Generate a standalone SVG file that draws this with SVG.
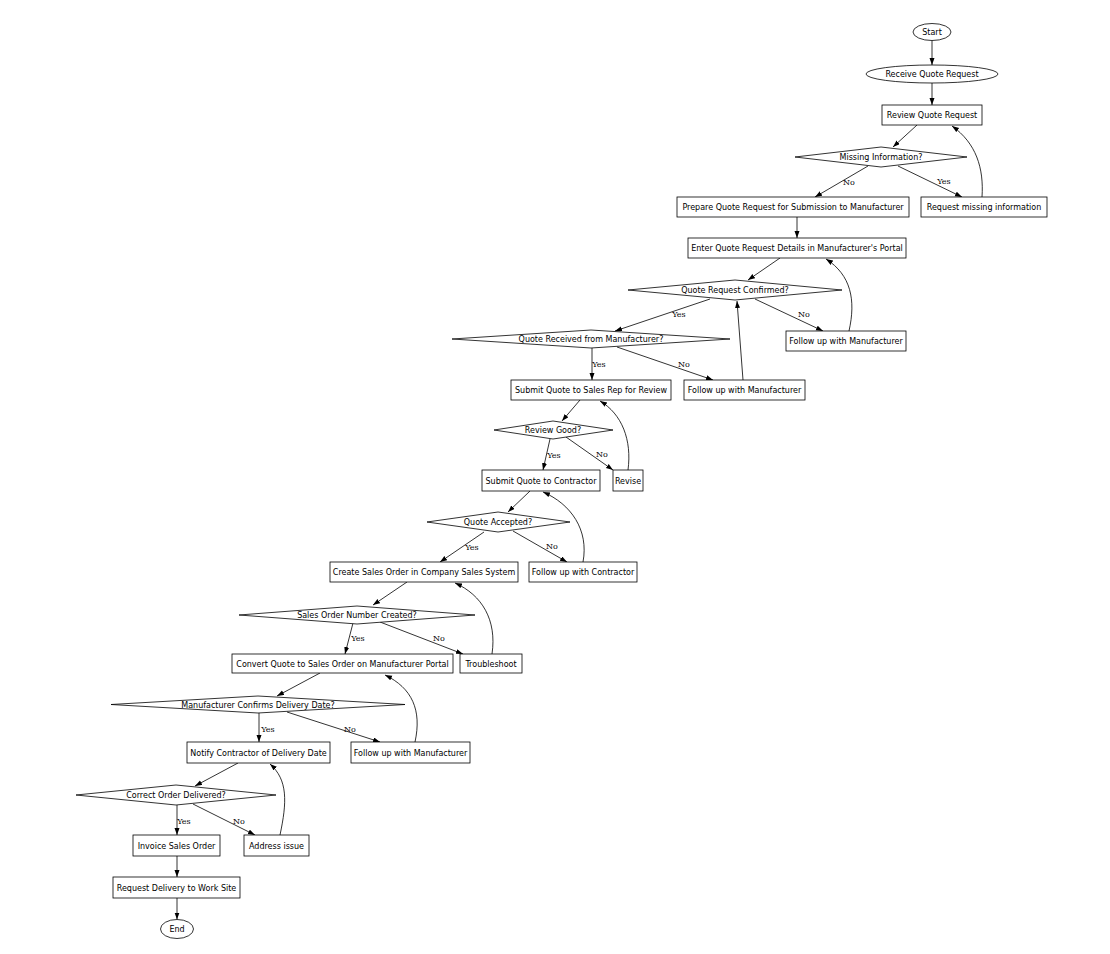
<svg xmlns="http://www.w3.org/2000/svg" width="1110" height="954" viewBox="0 0 1110 954">
<style>
.n{fill:#fff;stroke:#000;stroke-width:0.8}
.t{font-family:"DejaVu Sans",sans-serif;font-size:8px;text-anchor:middle;fill:#000}
.l{font-family:"DejaVu Serif",serif;font-size:8px;text-anchor:middle;fill:#000}
.e{fill:none;stroke:#000;stroke-width:0.8;marker-end:url(#ah)}
</style>
<defs>
<marker id="ah" markerUnits="userSpaceOnUse" markerWidth="8" markerHeight="6" refX="7" refY="2.5" orient="auto">
<path d="M0,0 L7,2.5 L0,5 z" fill="#000"/>
</marker>
</defs>
<rect width="1110" height="954" fill="#fff"/>
<g id="connectors">
<path class="e" d="M932,40.5 L932,65"/>
<path class="e" d="M932,83 L932,105"/>
<path class="e" d="M917,125 L893,147"/>
<path class="e" d="M868,166 L815,197"/>
<path class="e" d="M898,166 L962,197"/>
<path class="e" d="M982,197 C984,168 976,143 952,126"/>
<path class="e" d="M797,217 L797,238"/>
<path class="e" d="M780,258 L748,280"/>
<path class="e" d="M755,299 L823,331"/>
<path class="e" d="M849,331 C856,300 851,275 826,259"/>
<path class="e" d="M710,299 L615,331"/>
<path class="e" d="M743,380 L737,301"/>
<path class="e" d="M592,348 L592,380"/>
<path class="e" d="M617,347 L713,380"/>
<path class="e" d="M580,400 L562,421"/>
<path class="e" d="M550,439 L543,470"/>
<path class="e" d="M566,437 L613,470"/>
<path class="e" d="M628,470 C632,440 622,414 600,401"/>
<path class="e" d="M530,491 L508,512"/>
<path class="e" d="M484,532 L440,562"/>
<path class="e" d="M513,531 L567,562"/>
<path class="e" d="M583,562 C589,530 571,504 543,492"/>
<path class="e" d="M407,582 L373,605"/>
<path class="e" d="M353,623 L345,654"/>
<path class="e" d="M380,622 L463,654"/>
<path class="e" d="M492,654 C497,620 482,595 455,583"/>
<path class="e" d="M320,673 L277,696"/>
<path class="e" d="M259,713 L259,742"/>
<path class="e" d="M287,712 L380,742"/>
<path class="e" d="M415,742 C422,710 412,688 385,675"/>
<path class="e" d="M238,763 L195,786"/>
<path class="e" d="M177,805 L177,835"/>
<path class="e" d="M193,804 L255,835"/>
<path class="e" d="M280,835 C287,802 288,780 270,764"/>
<path class="e" d="M177,856 L177,877"/>
<path class="e" d="M177,898 L177,919.5"/>
</g>
<g id="edge-labels">
<text class="l" x="849" y="185">No</text>
<text class="l" x="944" y="184">Yes</text>
<text class="l" x="804" y="317">No</text>
<text class="l" x="679" y="317">Yes</text>
<text class="l" x="599" y="367">Yes</text>
<text class="l" x="684" y="367">No</text>
<text class="l" x="554" y="458">Yes</text>
<text class="l" x="602" y="457">No</text>
<text class="l" x="472" y="550">Yes</text>
<text class="l" x="552" y="549">No</text>
<text class="l" x="358" y="641">Yes</text>
<text class="l" x="439" y="641">No</text>
<text class="l" x="268" y="732">Yes</text>
<text class="l" x="350" y="732">No</text>
<text class="l" x="184" y="824">Yes</text>
<text class="l" x="239" y="824">No</text>
</g>
<g id="start"><ellipse class="n" cx="932" cy="32" rx="19" ry="8.5"/><text class="t" x="932" y="35">Start</text></g>
<g id="receive"><ellipse class="n" cx="932" cy="74" rx="66" ry="9"/><text class="t" x="932" y="77">Receive Quote Request</text></g>
<g id="review"><rect class="n" x="882" y="105" width="100" height="20"/><text class="t" x="932" y="118">Review Quote Request</text></g>
<g id="missing"><polygon class="n" points="795,157 881,147 967,157 881,167"/><text class="t" x="881" y="160">Missing Information?</text></g>
<g id="prepare"><rect class="n" x="677" y="197" width="232" height="20"/><text class="t" x="793" y="210">Prepare Quote Request for Submission to Manufacturer</text></g>
<g id="reqmissing"><rect class="n" x="921" y="197" width="126" height="20"/><text class="t" x="984" y="210">Request missing information</text></g>
<g id="enter"><rect class="n" x="688" y="238" width="218" height="20"/><text class="t" x="797" y="251">Enter Quote Request Details in Manufacturer's Portal</text></g>
<g id="qrc"><polygon class="n" points="628,290 735,280 842,290 735,300"/><text class="t" x="735" y="293">Quote Request Confirmed?</text></g>
<g id="follow1"><rect class="n" x="786" y="331" width="120" height="20"/><text class="t" x="846" y="344">Follow up with Manufacturer</text></g>
<g id="qrm"><polygon class="n" points="452,339 591,330 730,339 591,348"/><text class="t" x="591" y="342">Quote Received from Manufacturer?</text></g>
<g id="salesrep"><rect class="n" x="511" y="380" width="160" height="20"/><text class="t" x="591" y="393">Submit Quote to Sales Rep for Review</text></g>
<g id="follow2"><rect class="n" x="684" y="380" width="121" height="20"/><text class="t" x="744.5" y="393">Follow up with Manufacturer</text></g>
<g id="reviewgood"><polygon class="n" points="494,430 553,421 613,430 553,439"/><text class="t" x="553" y="433">Review Good?</text></g>
<g id="contractor"><rect class="n" x="482" y="470" width="118" height="21"/><text class="t" x="541" y="483.5">Submit Quote to Contractor</text></g>
<g id="revise"><rect class="n" x="613" y="470" width="30" height="21"/><text class="t" x="628" y="483.5">Revise</text></g>
<g id="accepted"><polygon class="n" points="427,522 498,512 570,522 498,532"/><text class="t" x="498" y="525">Quote Accepted?</text></g>
<g id="create"><rect class="n" x="330" y="562" width="188" height="20"/><text class="t" x="424" y="575">Create Sales Order in Company Sales System</text></g>
<g id="followc"><rect class="n" x="529" y="562" width="108" height="20"/><text class="t" x="583" y="575">Follow up with Contractor</text></g>
<g id="sonc"><polygon class="n" points="239,615 357,606 475,615 357,624"/><text class="t" x="357" y="618">Sales Order Number Created?</text></g>
<g id="convert"><rect class="n" x="232" y="654" width="221" height="19"/><text class="t" x="342.5" y="666.5">Convert Quote to Sales Order on Manufacturer Portal</text></g>
<g id="trouble"><rect class="n" x="460" y="654" width="62" height="19"/><text class="t" x="491" y="666.5">Troubleshoot</text></g>
<g id="mcdd"><polygon class="n" points="111,704.5 258,696 405,704.5 258,713"/><text class="t" x="258" y="707.5">Manufacturer Confirms Delivery Date?</text></g>
<g id="notify"><rect class="n" x="187" y="742" width="143" height="21"/><text class="t" x="258.5" y="755.5">Notify Contractor of Delivery Date</text></g>
<g id="follow3"><rect class="n" x="351" y="742" width="119" height="21"/><text class="t" x="410.5" y="755.5">Follow up with Manufacturer</text></g>
<g id="cod"><polygon class="n" points="76,795 176,785 276,795 176,805"/><text class="t" x="176" y="798">Correct Order Delivered?</text></g>
<g id="invoice"><rect class="n" x="133" y="835" width="87" height="21"/><text class="t" x="176.5" y="848.5">Invoice Sales Order</text></g>
<g id="address"><rect class="n" x="244" y="835" width="65" height="21"/><text class="t" x="276.5" y="848.5">Address issue</text></g>
<g id="delivery"><rect class="n" x="113" y="877" width="127" height="21"/><text class="t" x="176.5" y="890.5">Request Delivery to Work Site</text></g>
<g id="end"><ellipse class="n" cx="177" cy="929" rx="16.5" ry="9.5"/><text class="t" x="177" y="932">End</text></g>
</svg>
